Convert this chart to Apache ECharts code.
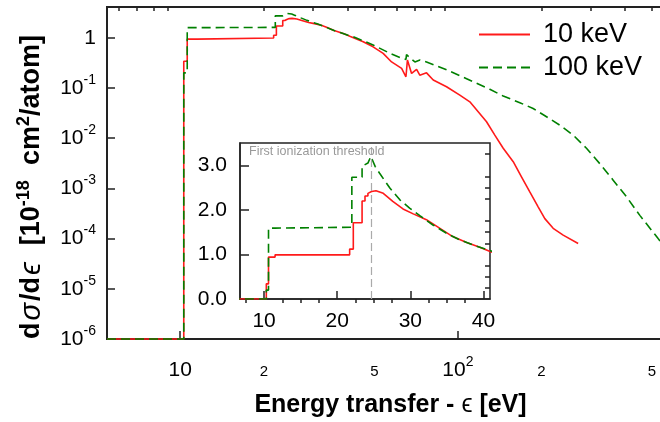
<!DOCTYPE html>
<html>
<head>
<meta charset="utf-8">
<script src="https://cdn.jsdelivr.net/npm/echarts@6/dist/echarts.min.js"></script>
<style>
  html, body { margin: 0; padding: 0; background: #fff; }
  #chart { width: 660px; height: 422px; }
</style>
</head>
<body>
<div id="chart"></div>
<script>
// energy transfer (eV) and dσ/dϵ (1e-18 cm^2/atom), 10 keV projectile
const energy10 = [5.45, 10.3, 10.3, 10.6, 10.6, 11.5, 11.5, 21.7, 21.7, 22.2, 22.2, 23.4, 23.4, 23.8, 23.8,
  24.2, 24.2, 24.7, 25.3, 26.3, 27.6, 29.0, 30.4, 32.2, 34.0, 35.8, 37.7, 39.5, 41, 45.6, 49.5, 53.8,
  57.7, 62.7, 65, 65.8, 68.1, 71, 72.9, 77.1, 81.5, 91, 101.6, 110.4, 126.8, 135.8, 145.6, 158.2,
  169.4, 181.5, 194.5, 205.6, 220.3, 239.4, 271]
const sigma10 = [0, 0, 0.34, 0.34, 0.94, 0.94, 0.99, 0.99, 1.12, 1.12, 1.71, 1.71, 2.20, 2.20, 2.31,
  2.31, 2.37, 2.41, 2.43, 2.37, 2.19, 2.02, 1.91, 1.78, 1.59, 1.40, 1.27, 1.16, 1.06, 0.83, 0.66, 0.49,
  0.33, 0.245, 0.167, 0.36, 0.195, 0.235, 0.18, 0.2, 0.144, 0.106, 0.072, 0.053, 0.0212, 0.0115, 0.0063, 0.0034,
  0.0017, 0.00085, 0.00043, 0.00025, 0.00016, 0.000117, 0.00008]

// 100 keV projectile
const energy100 = [5.45, 10.3, 10.3, 10.6, 10.6, 11.5, 11.5, 22.0, 22.0, 23.4, 23.4, 24.2, 24.6, 25.2,
  25.8, 27.2, 28.6, 29.9, 31.3, 33.1, 34.9, 36.7, 38.6, 41, 42, 49.5, 56.9, 62.7, 65, 65.3, 70, 73,
  77.1, 91, 107, 113.5, 130.3, 145.6, 167.1, 186.6, 208.5, 232.8, 260, 290.4, 324.4, 362.3, 404.7,
  452, 526, 560]
const sigma100 = [0, 0, 0.2, 0.2, 1.59, 1.59, 1.61, 1.61, 2.73, 2.73, 2.98, 3.05, 3.20, 2.97,
  2.82, 2.49, 2.22, 2.04, 1.87, 1.66, 1.48, 1.33, 1.21, 1.08, 1.05, 0.72, 0.49, 0.39, 0.37, 0.46, 0.33, 0.36,
  0.33, 0.23, 0.155, 0.133, 0.094, 0.069, 0.051, 0.039, 0.0267, 0.0182, 0.0115, 0.0063, 0.0031, 0.00146, 0.00068,
  0.00029, 0.0001, 0.000065]

const ionThreshold = 24.59

// tick values
const mainYTicks = [1e-6, 1e-5, 1e-4, 1e-3, 1e-2, 1e-1, 1]
const mainXMajor = [10, 100]
const mainXMinor = [6, 7, 8, 9, 20, 30, 40, 50, 60, 70, 80, 90, 200, 300, 400, 500]
const mainXLabels = [10, 20, 50, 100, 200, 500]
const insetXMajor = [10, 20, 30, 40]
const insetXMinor = [7.5, 12.5, 15, 17.5, 22.5, 25, 27.5, 32.5, 35, 37.5]
const insetYMajor = [0, 1, 2, 3]
const insetYMinor = [0.25, 0.5, 0.75, 1.25, 1.5, 1.75, 2.25, 2.5, 2.75, 3.25]

const fam = 'Liberation Sans, Arial, Helvetica, sans-serif'
const axisColor = '#222'
const floor = 1e-6

const pairs = (xs, ys, lo) => xs.map((x, i) => [x, lo ? Math.max(ys[i], lo) : ys[i]])

const tickRich = {
  b: { fontSize: 21, lineHeight: 30, fontFamily: fam, color: '#000' },
  s: { fontSize: 14, lineHeight: 14, verticalAlign: 'top', fontFamily: fam, color: '#000' },
  m: { fontSize: 15, lineHeight: 30, fontFamily: fam, color: '#000', padding: [4, 0, 0, 0] },
}

const myChart = echarts.init(document.getElementById('chart'), null, { renderer: 'canvas' })

const option = {
  animation: false,
  backgroundColor: '#fff',
  grid: [
    { left: 107, top: 7, width: 567, height: 332, show: true, borderColor: axisColor, borderWidth: 2, outerBoundsMode: 'none' },
    { left: 240, top: 143, width: 250, height: 156, show: true, borderColor: axisColor, borderWidth: 1.5, backgroundColor: '#fff', outerBoundsMode: 'none' },
  ],
  legend: {
    orient: 'vertical',
    left: 478,
    top: 21,
    padding: 0,
    itemWidth: 51,
    itemHeight: 26,
    itemGap: 6,
    data: ['10 keV', '100 keV'],
    itemStyle: { opacity: 0 },
    textStyle: { fontSize: 27, fontFamily: fam, color: '#000', padding: [0, 0, 0, 8] },
  },
  graphic: [
    {
      type: 'text',
      left: 249,
      top: 145,
      z: 10,
      style: { text: 'First ionization threshold', fontSize: 12.5, fontFamily: fam, fill: '#999' },
    },
  ],
  xAxis: [
    {
      type: 'log',
      gridIndex: 0,
      min: 5.45,
      max: 600,
      axisLine: { lineStyle: { color: axisColor, width: 2 } },
      axisTick: { inside: true, length: 8, customValues: mainXMajor, lineStyle: { color: axisColor, width: 1.5 } },
      axisLabel: {
        customValues: mainXLabels,
        margin: 16,
        formatter: (v) => {
          const e = Math.floor(Math.log10(v) + 1e-9)
          const m = Math.round(v / Math.pow(10, e))
          if (m === 1) return e === 1 ? '{b|10}' : '{b|10}{s|' + e + '}'
          return '{m|' + m + '}'
        },
        rich: tickRich,
      },
      splitLine: { show: false },
      name: '{b|Energy transfer - }{g|ϵ}{b| [eV]}',
      nameLocation: 'middle',
      nameGap: 54,
      nameTextStyle: {
        rich: {
          b: { fontSize: 25, fontWeight: 'bold', fontFamily: fam, color: '#000' },
          g: { fontSize: 25, fontFamily: fam, color: '#000' },
        },
      },
    },
    {
      type: 'log',
      gridIndex: 0,
      min: 5.45,
      max: 600,
      axisLine: { show: false },
      axisTick: { inside: true, length: 4, customValues: mainXMinor, lineStyle: { color: axisColor, width: 1.5 } },
      axisLabel: { show: false },
      splitLine: { show: false },
    },
    {
      type: 'value',
      gridIndex: 1,
      min: 6.7,
      max: 40.9,
      axisLine: { lineStyle: { color: axisColor, width: 1.5 } },
      axisTick: { inside: true, length: 8, customValues: insetXMajor, lineStyle: { color: axisColor, width: 1.5 } },
      axisLabel: { customValues: insetXMajor, margin: 12, fontSize: 21, fontFamily: fam, color: '#000' },
      splitLine: { show: false },
    },
    {
      type: 'value',
      gridIndex: 1,
      min: 6.7,
      max: 40.9,
      axisLine: { show: false },
      axisTick: { inside: true, length: 4, customValues: insetXMinor, lineStyle: { color: axisColor, width: 1.5 } },
      axisLabel: { show: false },
      splitLine: { show: false },
    },
  ],
  yAxis: [
    {
      type: 'log',
      gridIndex: 0,
      min: floor,
      max: 4.1,
      axisLine: { lineStyle: { color: axisColor, width: 2 } },
      axisTick: { inside: true, length: 8, customValues: mainYTicks, lineStyle: { color: axisColor, width: 1.5 } },
      axisLabel: {
        customValues: mainYTicks,
        margin: 11,
        formatter: (v) => {
          const e = Math.round(Math.log10(v))
          return e === 0 ? '{b|1}' : '{b|10}{s|' + e + '}'
        },
        rich: tickRich,
      },
      splitLine: { show: false },
      name: '{b|d}{g|σ}{b|/d}{g|ϵ}{b|  [10}{s|-18}{b|  cm}{s|2}{b|/atom]}',
      nameLocation: 'middle',
      nameRotate: 90,
      nameGap: 58,
      nameTextStyle: {
        padding: [0, 28, 0, 0],
        rich: {
          b: { fontSize: 27, lineHeight: 34, fontWeight: 'bold', fontFamily: fam, color: '#000' },
          g: { fontSize: 29, lineHeight: 34, fontStyle: 'italic', fontFamily: fam, color: '#000', padding: [0, 2, 0, 2] },
          s: { fontSize: 18, lineHeight: 18, verticalAlign: 'top', fontWeight: 'bold', fontFamily: fam, color: '#000' },
        },
      },
    },
    {
      type: 'value',
      gridIndex: 1,
      min: 0,
      max: 3.5,
      axisLine: { lineStyle: { color: axisColor, width: 1.5 } },
      axisTick: { inside: true, length: 9, customValues: insetYMajor, lineStyle: { color: axisColor, width: 1.5 } },
      axisLabel: {
        customValues: insetYMajor,
        margin: 13,
        fontSize: 21,
        fontFamily: fam,
        color: '#000',
        formatter: (v) => v.toFixed(1),
      },
      splitLine: { show: false },
    },
    {
      type: 'value',
      gridIndex: 1,
      min: 0,
      max: 3.5,
      axisLine: { show: false },
      axisTick: { inside: true, length: 5, customValues: insetYMinor, lineStyle: { color: axisColor, width: 1.5 } },
      axisLabel: { show: false },
      splitLine: { show: false },
    },
  ],
  series: [
    {
      name: '10 keV',
      type: 'line',
      xAxisIndex: 0,
      yAxisIndex: 0,
      data: pairs(energy10, sigma10, floor),
      symbol: 'none',
      clip: false,
      lineStyle: { color: '#ff1a1a', width: 1.6 },
      itemStyle: { color: '#ff1a1a' },
    },
    {
      name: '100 keV',
      type: 'line',
      xAxisIndex: 0,
      yAxisIndex: 0,
      data: pairs(energy100, sigma100, floor),
      symbol: 'none',
      clip: false,
      lineStyle: { color: '#008000', width: 1.6, type: [9, 5] },
      itemStyle: { color: '#008000' },
    },
    {
      name: '10 keV',
      type: 'line',
      xAxisIndex: 2,
      yAxisIndex: 1,
      data: pairs(energy10, sigma10),
      symbol: 'none',
      clip: true,
      lineStyle: { color: '#ff1a1a', width: 1.6 },
      itemStyle: { color: '#ff1a1a' },
      markLine: {
        silent: true,
        symbol: 'none',
        label: { show: false },
        lineStyle: { color: '#aaa', width: 1.2, type: [8, 4] },
        data: [{ xAxis: ionThreshold }],
      },
    },
    {
      name: '100 keV',
      type: 'line',
      xAxisIndex: 2,
      yAxisIndex: 1,
      data: pairs(energy100, sigma100),
      symbol: 'none',
      clip: true,
      lineStyle: { color: '#008000', width: 1.6, type: [9, 5] },
      itemStyle: { color: '#008000' },
    },
  ],
}

myChart.setOption(option)
</script>
</body>
</html>
